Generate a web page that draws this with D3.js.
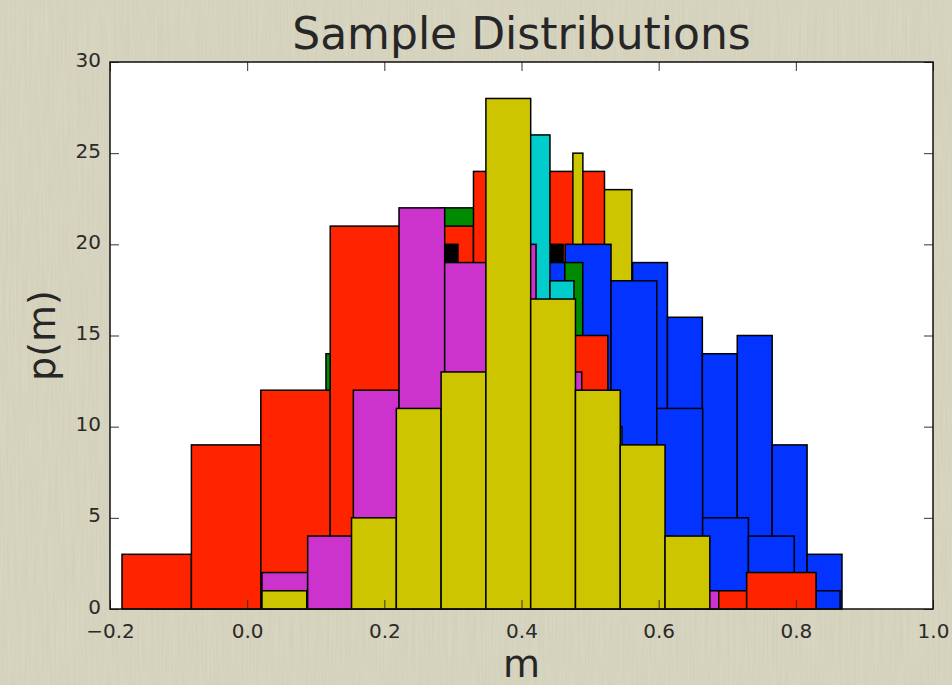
<!DOCTYPE html>
<html lang="en">
<head>
<meta charset="UTF-8">
<title>Sample Distributions</title>
<script src="https://d3js.org/d3.v7.min.js"></script>
<style>
    body { margin: 0; background: #d6d3bd; }
    svg { display: block; }
    text { font-family: "DejaVu Sans", sans-serif; }
</style>
</head>
<body>
<svg width="952" height="685"></svg>
<script>
// each histogram: [first bin edge, bin width] and its counts, listed back to front
var yellow3Bins = [0.3569, 0.0408];
var yellow3 = [2, 6, 12, 18, 23, 17, 10, 6, 4, 2];
var blueABins = [0.3583, 0.0509];
var blueA = [1, 3, 8, 12, 19, 16, 14, 15, 9, 3];
var green1Bins = [0.0041, 0.0554];
var green1 = [2, 8, 14, 18, 20, 22, 8, 5, 2, 1];
var red2Bins = [-0.1475, 0.0955];
var red2 = [1, 3, 8, 15, 21, 24, 24, 3, 1, 0];
var blackBins = [0.2854, 0.0219];
var black = [20, 14, 17, 22, 25, 24, 21, 20, 6];
var yellow2Bins = [0.4020, 0.01458];
var yellow2 = [3, 8, 12, 18, 19, 25, 8, 4, 2, 1];
var blueBBins = [0.1965, 0.0668];
var blueB = [2, 6, 14, 19, 20, 18, 11, 5, 4, 1];
var green2Bins = [0.3845, 0.0262];
var green2 = [6, 12, 16, 19, 14, 11, 9, 6, 4, 3];
var cyanBins = [0.2665, 0.0350];
var cyan = [0, 2, 8, 16, 26, 18, 12, 10, 5, 3];
var red1Bins = [-0.1825, 0.1012];
var red1 = [3, 9, 12, 21, 18, 16, 15, 3, 1, 2];
var magentaBins = [0.0216, 0.0666];
var magenta = [2, 4, 12, 22, 19, 20, 13, 5, 2, 1];
var yellow1Bins = [0.0216, 0.0653];
var yellow1 = [1, 0, 5, 11, 13, 28, 17, 12, 9, 4];

var xTicks = [-0.2, 0.0, 0.2, 0.4, 0.6, 0.8, 1.0];
var yTicks = [0, 5, 10, 15, 20, 25, 30];

var layers = [
    {bins: yellow3Bins, counts: yellow3, color: "#ccc500"},
    {bins: blueABins, counts: blueA, color: "#0233ff"},
    {bins: green1Bins, counts: green1, color: "#008a00"},
    {bins: red2Bins, counts: red2, color: "#ff2400"},
    {bins: blackBins, counts: black, color: "#000000"},
    {bins: yellow2Bins, counts: yellow2, color: "#ccc500"},
    {bins: blueBBins, counts: blueB, color: "#0233ff"},
    {bins: green2Bins, counts: green2, color: "#008a00"},
    {bins: cyanBins, counts: cyan, color: "#00cccc"},
    {bins: red1Bins, counts: red1, color: "#ff2400"},
    {bins: magentaBins, counts: magenta, color: "#cc33cc"},
    {bins: yellow1Bins, counts: yellow1, color: "#ccc500"}
];

var svg = d3.select("svg");
var plotLeft = 110, plotRight = 933, plotTop = 62, plotBottom = 609;

// paper-like background
var defs = svg.append("defs");
var f = defs.append("filter").attr("id", "paper")
    .attr("x", 0).attr("y", 0).attr("width", 1).attr("height", 1);
f.append("feTurbulence").attr("type", "fractalNoise")
    .attr("baseFrequency", "0.6 0.015").attr("numOctaves", 2).attr("seed", 4);
f.append("feColorMatrix").attr("type", "matrix")
    .attr("values", "0 0 0 0 0.45  0 0 0 0 0.43  0 0 0 0 0.33  0.3 0 0 0 -0.08");
svg.append("rect").attr("width", 952).attr("height", 685).attr("fill", "#d8d5c0");
svg.append("rect").attr("width", 952).attr("height", 685).attr("filter", "url(#paper)");

var x = d3.scaleLinear().domain([-0.2, 1.0]).range([plotLeft, plotRight]);
var y = d3.scaleLinear().domain([0, 30]).range([plotBottom, plotTop]);

svg.append("rect")
    .attr("x", plotLeft).attr("y", plotTop)
    .attr("width", plotRight - plotLeft).attr("height", plotBottom - plotTop)
    .attr("fill", "white");

var plot = svg.append("g");
layers.forEach(function(layer) {
    var rects = layer.counts.map(function(c, i) {
        return {x0: layer.bins[0] + i * layer.bins[1], x1: layer.bins[0] + (i + 1) * layer.bins[1], n: c};
    }).filter(function(d) { return d.n > 0; });
    plot.append("g").selectAll("rect")
        .data(rects)
        .enter().append("rect")
        .attr("x", function(d) { return x(d.x0); })
        .attr("y", function(d) { return y(d.n); })
        .attr("width", function(d) { return x(d.x1) - x(d.x0); })
        .attr("height", function(d) { return y(0) - y(d.n); })
        .attr("fill", layer.color)
        .attr("stroke", "#000")
        .attr("stroke-width", 1.5);
});

var fmt = d3.format(".1f");
var xAxis = svg.append("g")
    .attr("transform", "translate(0," + plotBottom + ")")
    .call(d3.axisBottom(x).tickValues(xTicks).tickFormat(fmt).tickSize(-9).tickPadding(15));
var xTop = svg.append("g")
    .attr("transform", "translate(0," + plotTop + ")")
    .call(d3.axisTop(x).tickValues(xTicks).tickFormat("").tickSize(-9));
var yAxis = svg.append("g")
    .attr("transform", "translate(" + plotLeft + ",0)")
    .call(d3.axisLeft(y).tickValues(yTicks).tickSize(-9).tickPadding(9));
var yRight = svg.append("g")
    .attr("transform", "translate(" + plotRight + ",0)")
    .call(d3.axisRight(y).tickValues(yTicks).tickFormat("").tickSize(-9));

[xAxis, xTop, yAxis, yRight].forEach(function(a) {
    a.select(".domain").remove();
    a.selectAll(".tick line").attr("stroke", "#333").attr("stroke-width", 1);
    a.selectAll("text").attr("font-size", "20px").attr("fill", "#2a2a2a")
        .attr("font-family", "DejaVu Sans, sans-serif");
});
yAxis.selectAll("text").attr("dy", "0.2em");

svg.append("rect")
    .attr("x", plotLeft).attr("y", plotTop)
    .attr("width", plotRight - plotLeft).attr("height", plotBottom - plotTop)
    .attr("fill", "none")
    .attr("stroke", "#111")
    .attr("stroke-width", 1.5);

svg.append("text")
    .attr("x", (plotLeft + plotRight) / 2)
    .attr("y", 49)
    .attr("text-anchor", "middle")
    .attr("font-size", "44px")
    .attr("fill", "#262626")
    .text("Sample Distributions");

svg.append("text")
    .attr("x", (plotLeft + plotRight) / 2)
    .attr("y", 677)
    .attr("text-anchor", "middle")
    .attr("font-size", "38px")
    .attr("fill", "#262626")
    .text("m");

svg.append("text")
    .attr("transform", "translate(55," + (plotTop + plotBottom) / 2 + ") rotate(-90)")
    .attr("text-anchor", "middle")
    .attr("font-size", "38px")
    .attr("fill", "#262626")
    .text("p(m)");
</script>
</body>
</html>
